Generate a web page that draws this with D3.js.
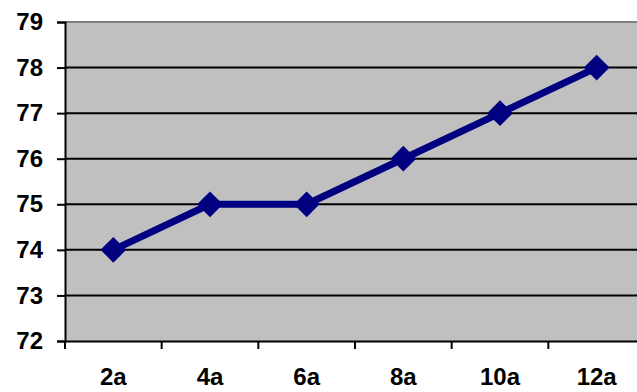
<!DOCTYPE html>
<html>
<head>
<meta charset="utf-8">
<script src="https://cdn.jsdelivr.net/npm/d3@7"></script>
<style>
  html, body { margin: 0; padding: 0; background: #fff; }
  svg { display: block; }
</style>
</head>
<body>
<svg id="chart" width="637" height="392"></svg>
<script>
// Series
const categories = ["2a", "4a", "6a", "8a", "10a", "12a"];
const values = [74, 75, 75, 76, 77, 78];
const yTicks = [72, 73, 74, 75, 76, 77, 78, 79];

const svg = d3.select("#chart");
const plot = { left: 65, top: 22, width: 580, height: 319 };

const x = d3.scaleBand()
  .domain(categories)
  .range([plot.left, plot.left + plot.width])
  .paddingInner(0).paddingOuter(0);

const y = d3.scaleLinear()
  .domain([72, 79])
  .range([plot.top + plot.height, plot.top]);

const font = "'Liberation Sans', Arial, sans-serif";

// Plot background
svg.append("rect")
  .attr("x", plot.left).attr("y", plot.top)
  .attr("width", plot.width).attr("height", plot.height)
  .attr("fill", "#c0c0c0");

// Top border of the plot area
svg.append("line")
  .attr("x1", plot.left).attr("x2", plot.left + plot.width)
  .attr("y1", y(79)).attr("y2", y(79))
  .attr("stroke", "#808080").attr("stroke-width", 2);

// Horizontal gridlines
svg.append("g")
  .selectAll("line")
  .data(yTicks.filter(d => d > 72 && d < 79))
  .join("line")
  .attr("x1", plot.left).attr("x2", plot.left + plot.width)
  .attr("y1", d => y(d)).attr("y2", d => y(d))
  .attr("stroke", "#000").attr("stroke-width", 2);

// Y axis
const yAxis = svg.append("g")
  .attr("transform", `translate(${plot.left},0)`)
  .call(d3.axisLeft(y).tickValues(yTicks).tickSize(8).tickPadding(14).tickFormat(d3.format("d")));
yAxis.select(".domain").attr("stroke", "#000").attr("stroke-width", 2);
yAxis.selectAll(".tick line").attr("stroke", "#000").attr("stroke-width", 2);
yAxis.selectAll(".tick text")
  .attr("fill", "#000")
  .style("font-family", font).style("font-size", "24px").style("font-weight", "bold");

// X axis with ticks between categories
const xAxis = svg.append("g")
  .attr("transform", `translate(0,${plot.top + plot.height})`)
  .call(d3.axisBottom(x).tickSize(0).tickPadding(27));
xAxis.select(".domain").attr("stroke", "#000").attr("stroke-width", 2);
xAxis.selectAll(".tick text")
  .attr("fill", "#000")
  .style("font-family", font).style("font-size", "24px").style("font-weight", "bold");

const boundaries = categories.map(c => x(c)).concat([x(categories[categories.length - 1]) + x.bandwidth()]);
xAxis.append("g")
  .selectAll("line")
  .data(boundaries)
  .join("line")
  .attr("x1", d => d).attr("x2", d => d)
  .attr("y1", 0).attr("y2", 8)
  .attr("stroke", "#000").attr("stroke-width", 2);

// Series line
const cx = d => x(d) + x.bandwidth() / 2;
const line = d3.line()
  .x((d, i) => cx(categories[i]))
  .y(d => y(d));

svg.append("path")
  .datum(values)
  .attr("d", line)
  .attr("fill", "none")
  .attr("stroke", "#000080")
  .attr("stroke-width", 7)
  .attr("stroke-linejoin", "round");

// Diamond markers
const diamond = d3.symbol().type(d3.symbolSquare).size(330);
svg.append("g")
  .selectAll("path")
  .data(values)
  .join("path")
  .attr("d", diamond)
  .attr("transform", (d, i) => `translate(${cx(categories[i])},${y(d)}) rotate(45)`)
  .attr("fill", "#000080");
</script>
</body>
</html>
